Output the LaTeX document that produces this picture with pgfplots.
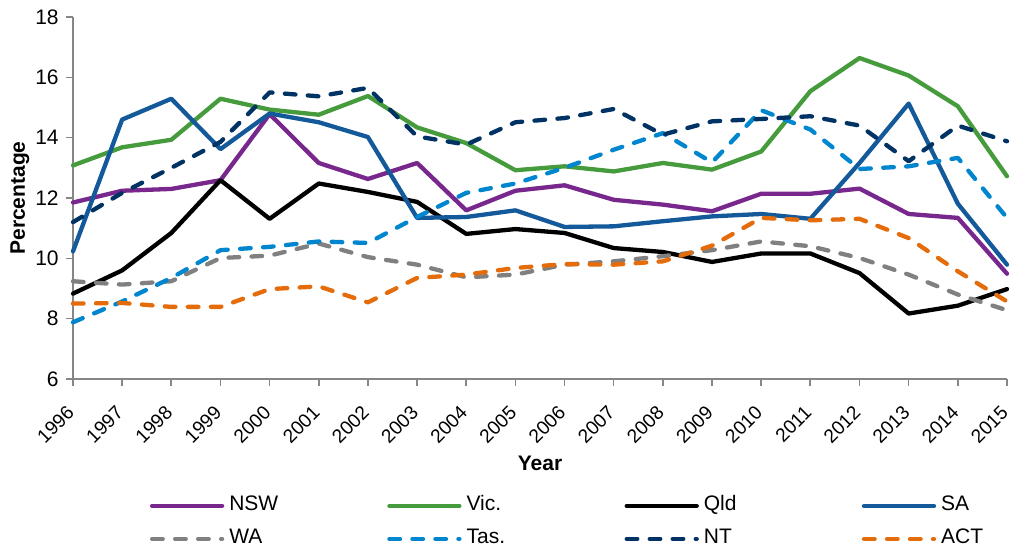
\documentclass[border=0pt]{standalone}
\usepackage{pgfplots}
\pgfplotsset{compat=1.18}
\usepackage{fontspec}
\setmainfont{Liberation Sans}
\definecolor{cNSW}{RGB}{120,40,140}
\definecolor{cVic}{RGB}{70,155,60}
\definecolor{cQld}{RGB}{0,0,0}
\definecolor{cSA}{RGB}{20,90,155}
\definecolor{cWA}{RGB}{128,128,128}
\definecolor{cTas}{RGB}{0,134,206}
\definecolor{cNT}{RGB}{0,50,100}
\definecolor{cACT}{RGB}{228,108,10}
\definecolor{axgray}{RGB}{134,134,134}
\tikzset{dsh/.style={dash pattern=on 5.3pt off 6.2pt}}
\begin{document}
\fontsize{10.5}{12.6}\selectfont
\begin{tikzpicture}
\useasboundingbox (0,0) rectangle (506.5pt,274.5pt);
\begin{axis}[
  at={(36.5pt,85pt)}, anchor=south west,
  scale only axis, width=467pt, height=181pt,
  xmin=1996, xmax=2015, ymin=6, ymax=18,
  xtick={1996,...,2015}, ytick={6,8,...,18},
  axis lines*=left,
  axis line style={axgray, line width=0.8pt},
  tick style={axgray, line width=0.8pt},
  tick align=outside, major tick length=3.5pt,
  yticklabel style={font=\fontsize{10.5}{12.6}\selectfont},
  /pgf/number format/assume math mode=true,
  /pgf/number format/1000 sep={},
  xticklabel style={rotate=45, anchor=east, xshift=2pt, font=\fontsize{9.6}{11.5}\selectfont},
  xticklabel shift=10.5pt,
  xlabel={\bfseries Year}, ylabel={\bfseries Percentage},
  label style={font=\fontsize{10.5}{12.6}\selectfont},
  ylabel style={at={(axis description cs:-0.0569,0.5)}, anchor=center, rotate=0},
  xlabel style={at={(axis description cs:0.5,-0.232)}, anchor=center},
  clip=false,
  every axis plot/.append style={line width=2.15pt, line join=round, line cap=round},
  legend columns=4,
  legend image code/.code={\draw[#1] (0pt,0pt) -- (35pt,0pt);},
  legend style={at={(axis description cs:0.0824,-0.323)}, anchor=north west,
    draw=none, inner sep=0pt, outer sep=0pt, row sep=6.5pt,
    nodes={inner sep=0pt, text height=7.5pt, text depth=2.5pt, font=\fontsize{10.5}{12.6}\selectfont},
    /tikz/every odd column/.append style={column sep=2.5pt}},
]
\addplot[cNSW] coordinates {(1996,11.85)(1997,12.24)(1998,12.30)(1999,12.59)(2000,14.78)(2001,13.16)(2002,12.63)(2003,13.16)(2004,11.59)(2005,12.24)(2006,12.42)(2007,11.94)(2008,11.78)(2009,11.56)(2010,12.14)(2011,12.14)(2012,12.31)(2013,11.47)(2014,11.34)(2015,9.49)};
\addlegendentry{\makebox[79pt][l]{NSW}}
\addplot[cVic] coordinates {(1996,13.08)(1997,13.68)(1998,13.93)(1999,15.29)(2000,14.93)(2001,14.76)(2002,15.38)(2003,14.34)(2004,13.82)(2005,12.92)(2006,13.05)(2007,12.88)(2008,13.16)(2009,12.94)(2010,13.54)(2011,15.54)(2012,16.64)(2013,16.06)(2014,15.04)(2015,12.72)};
\addlegendentry{\makebox[79pt][l]{Vic.}}
\addplot[cQld] coordinates {(1996,8.83)(1997,9.60)(1998,10.84)(1999,12.59)(2000,11.31)(2001,12.48)(2002,12.20)(2003,11.87)(2004,10.81)(2005,10.97)(2006,10.84)(2007,10.34)(2008,10.21)(2009,9.88)(2010,10.16)(2011,10.16)(2012,9.51)(2013,8.17)(2014,8.43)(2015,8.98)};
\addlegendentry{\makebox[79pt][l]{Qld}}
\addplot[cSA] coordinates {(1996,10.23)(1997,14.60)(1998,15.29)(1999,13.62)(2000,14.80)(2001,14.51)(2002,14.02)(2003,11.34)(2004,11.37)(2005,11.59)(2006,11.04)(2007,11.06)(2008,11.23)(2009,11.39)(2010,11.47)(2011,11.31)(2012,13.16)(2013,15.13)(2014,11.81)(2015,9.79)};
\addlegendentry{\makebox[40pt][l]{SA}}
\addplot[cWA, dsh] coordinates {(1996,9.24)(1997,9.13)(1998,9.24)(1999,10.01)(2000,10.09)(2001,10.49)(2002,10.04)(2003,9.79)(2004,9.37)(2005,9.46)(2006,9.79)(2007,9.90)(2008,10.07)(2009,10.27)(2010,10.56)(2011,10.40)(2012,10.01)(2013,9.46)(2014,8.80)(2015,8.28)};
\addlegendentry{\makebox[79pt][l]{WA}}
\addplot[cTas, dsh] coordinates {(1996,7.88)(1997,8.57)(1998,9.35)(1999,10.27)(2000,10.38)(2001,10.56)(2002,10.51)(2003,11.37)(2004,12.17)(2005,12.48)(2006,13.00)(2007,13.60)(2008,14.15)(2009,13.18)(2010,14.91)(2011,14.27)(2012,12.96)(2013,13.05)(2014,13.33)(2015,11.34)};
\addlegendentry{\makebox[79pt][l]{Tas.}}
\addplot[cNT, dsh] coordinates {(1996,11.20)(1997,12.17)(1998,13.00)(1999,13.86)(2000,15.50)(2001,15.37)(2002,15.65)(2003,14.04)(2004,13.77)(2005,14.51)(2006,14.65)(2007,14.95)(2008,14.10)(2009,14.54)(2010,14.62)(2011,14.71)(2012,14.40)(2013,13.22)(2014,14.40)(2015,13.88)};
\addlegendentry{\makebox[79pt][l]{NT}}
\addplot[cACT, dsh] coordinates {(1996,8.50)(1997,8.52)(1998,8.39)(1999,8.39)(2000,8.98)(2001,9.07)(2002,8.54)(2003,9.35)(2004,9.46)(2005,9.68)(2006,9.81)(2007,9.79)(2008,9.90)(2009,10.42)(2010,11.34)(2011,11.26)(2012,11.31)(2013,10.67)(2014,9.57)(2015,8.57)};
\addlegendentry{\makebox[40pt][l]{ACT}}
\end{axis}
\end{tikzpicture}
\end{document}
